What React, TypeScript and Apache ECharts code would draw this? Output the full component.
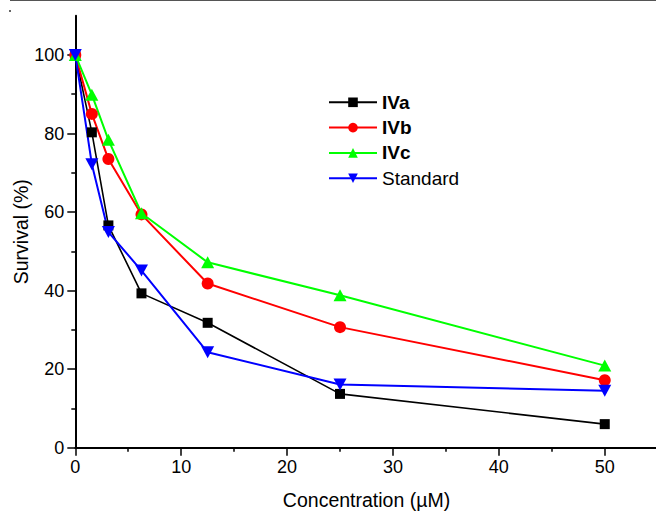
import React, { useEffect, useRef } from "react";
import * as echarts from "echarts";

const concentrations = [0, 1.5625, 3.125, 6.25, 12.5, 25, 50];
const ivA = [100, 80.3, 56.6, 39.3, 31.8, 13.7, 6.0];
const ivB = [100, 85.0, 73.5, 59.4, 41.8, 30.7, 17.2];
const ivC = [100, 89.9, 78.4, 59.7, 47.2, 38.8, 20.9];
const standard = [100, 72.2, 54.9, 45.1, 24.3, 16.1, 14.5];

const xMajor = [0, 10, 20, 30, 40, 50];
const xMinor = [5, 15, 25, 35, 45];
const yMajor = [0, 20, 40, 60, 80, 100];
const yMinor = [10, 30, 50, 70, 90];

const FONT = "'Liberation Sans', Arial, Helvetica, sans-serif";

const pairs = (ys: number[]) => concentrations.map((x, i) => [x, ys[i]]);

export default function App() {
  const ref = useRef<HTMLDivElement>(null);
  useEffect(() => {
    if (!ref.current) return;
    const chart = echarts.init(ref.current, null, { renderer: "svg" });
    const axisCommon = { type: "value", min: 0, splitLine: { show: false } };
    const option: any = {
      animation: false,
      backgroundColor: "#fff",
      textStyle: { fontFamily: FONT },
      grid: {
        left: 75.3,
        top: 15.7,
        width: 582.4,
        height: 432,
        containLabel: false,
        outerBoundsMode: "none",
      },
      graphic: [
        { type: "line", shape: { x1: 10, y1: 0.5, x2: 656, y2: 0.5 }, style: { stroke: "#555", lineWidth: 1 } },
        { type: "rect", shape: { x: 9, y: 10, width: 2, height: 2 }, style: { fill: "#666" } },
      ],
      legend: {
        orient: "vertical",
        left: 328,
        top: 92.8,
        padding: 0,
        itemWidth: 48,
        itemHeight: 12,
        itemGap: 6.3,
        textStyle: { fontSize: 19, color: "#000", fontFamily: FONT, lineHeight: 19 },
        data: [
          { name: "IVa", textStyle: { fontWeight: "bold" } },
          { name: "IVb", textStyle: { fontWeight: "bold" } },
          { name: "IVc", textStyle: { fontWeight: "bold" } },
          { name: "Standard" },
        ],
      },
      xAxis: [
        {
          ...axisCommon,
          max: 55,
          position: "bottom",
          axisLine: { show: true, onZero: false, lineStyle: { color: "#000", width: 2 } },
          axisTick: { show: true, customValues: xMinor, length: 4, lineStyle: { color: "#000", width: 1.5 } },
          axisLabel: { show: false },
        },
        {
          ...axisCommon,
          max: 55,
          position: "bottom",
          offset: 0,
          axisLine: { show: false, onZero: false },
          axisTick: { show: true, customValues: xMajor, length: 8, lineStyle: { color: "#000", width: 1.5 } },
          axisLabel: { show: true, customValues: xMajor, fontSize: 18, color: "#000", margin: 10, fontFamily: FONT },
          name: "Concentration (µM)",
          nameLocation: "middle",
          nameGap: 42,
          nameMoveOverlap: false,
          nameTextStyle: { fontSize: 19.5, color: "#000", fontFamily: FONT },
        },
      ],
      yAxis: [
        {
          ...axisCommon,
          max: 110,
          position: "left",
          axisLine: { show: true, onZero: false, lineStyle: { color: "#000", width: 2 } },
          axisTick: { show: true, customValues: yMinor, length: 4, lineStyle: { color: "#000", width: 1.5 } },
          axisLabel: { show: false },
        },
        {
          ...axisCommon,
          max: 110,
          position: "left",
          offset: 0,
          axisLine: { show: false, onZero: false },
          axisTick: { show: true, customValues: yMajor, length: 8, lineStyle: { color: "#000", width: 1.5 } },
          axisLabel: { show: true, customValues: yMajor, fontSize: 18, color: "#000", margin: 11, fontFamily: FONT },
          name: "Survival (%)",
          nameLocation: "middle",
          nameGap: 44,
          nameMoveOverlap: false,
          nameTextStyle: { fontSize: 19.5, color: "#000", fontFamily: FONT },
        },
      ],
      series: [
        {
          name: "IVa",
          type: "line",
          data: pairs(ivA),
          symbol: "rect",
          symbolSize: 10,
          color: "#000000",
          lineStyle: { width: 1.6, color: "#000000" },
          itemStyle: { color: "#000000" },
        },
        {
          name: "IVb",
          type: "line",
          data: pairs(ivB),
          symbol: "circle",
          symbolSize: 12,
          color: "#ff0000",
          lineStyle: { width: 2, color: "#ff0000" },
          itemStyle: { color: "#ff0000" },
        },
        {
          name: "IVc",
          type: "line",
          data: pairs(ivC),
          symbol: "triangle",
          symbolSize: [13, 12],
          color: "#00ff00",
          lineStyle: { width: 2, color: "#00ff00" },
          itemStyle: { color: "#00ff00" },
        },
        {
          name: "Standard",
          type: "line",
          data: pairs(standard),
          symbol: "triangle",
          symbolRotate: 180,
          symbolSize: [13, 12],
          color: "#0000ff",
          lineStyle: { width: 2, color: "#0000ff" },
          itemStyle: { color: "#0000ff" },
        },
      ],
    };
    chart.setOption(option);
    return () => chart.dispose();
  }, []);
  return (
    <div
      ref={ref}
      style={{ position: "fixed", left: 0, top: 0, width: 656, height: 511, background: "#fff" }}
    />
  );
}
